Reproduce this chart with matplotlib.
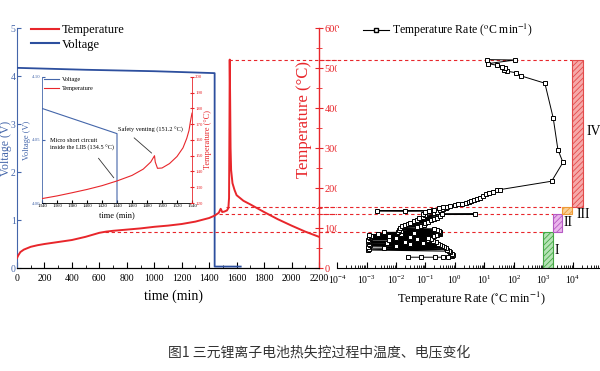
import matplotlib
matplotlib.use('Agg')
import matplotlib.pyplot as plt
from matplotlib.lines import Line2D
from matplotlib.patches import Rectangle
from matplotlib.ticker import MultipleLocator, LogLocator, NullFormatter

plt.rcParams['font.family'] = ['Liberation Serif', 'DejaVu Serif', 'Noto Sans CJK SC']
plt.rcParams['mathtext.fontset'] = 'stix'
plt.rcParams['hatch.linewidth'] = 0.6

RED = '#e8262b'
BLUE = '#2d4f9e'
TBLUE = '#4466aa'

# main test: temperature (degC) vs time (min)
time_min = [0, 10, 25, 50, 100, 150, 200, 300, 400, 500, 600, 650, 700, 800, 900,
            1000, 1100, 1200, 1300, 1400, 1440, 1470, 1484, 1490, 1495, 1510, 1530,
            1540, 1545, 1548, 1550, 1553, 1556, 1560, 1570, 1585, 1600, 1650, 1700,
            1800, 1900, 2000, 2100, 2200]
temp_c = [25, 32, 40, 46, 53, 57, 60, 65, 70, 78, 88, 91, 93, 96, 99,
          103, 106, 110, 116, 125, 131, 138, 148, 144, 140, 141, 144,
          150, 175, 360, 521, 420, 300, 245, 212, 195, 182, 168, 159,
          140, 122, 106, 91, 78]

# voltage (V) vs time (min)
volt_time = [0, 500, 1000, 1440, 1440, 1630]
volt_v = [4.17, 4.13, 4.10, 4.06, 0.03, 0.03]

# inset: zoom around the short circuit / venting
ins_time = [1340, 1360, 1380, 1400, 1420, 1440, 1460, 1475, 1485, 1490, 1491,
            1494, 1500, 1510, 1520, 1528, 1533, 1536, 1538, 1540]
ins_temp = [122.8, 124.5, 126.5, 128.6, 131.0, 134.0, 137.5, 141.5, 146.0, 150.0,
            146.0, 142.0, 142.2, 145.0, 149.5, 155.0, 161.0, 166.0, 172.0, 177.0]
ins_vtime = [1340, 1440, 1440]
ins_volt = [4.075, 4.055, 3.99]

# temperature rate (degC/min) vs temperature (degC)
rate_temp = [27, 27, 27, 27, 28,
             30, 33, 36, 39, 42, 45, 46, 48, 49, 51, 52, 53, 55, 56, 57, 58, 59, 60,
             61, 62, 63, 64, 65, 66, 67, 68, 69, 70, 71, 72, 73, 74, 75, 76, 77, 78,
             79, 80, 81, 82, 83, 84, 85, 86, 87, 88, 89, 90, 91, 92, 93, 95, 96, 98, 99,
             101, 102, 104, 105, 107, 108, 110, 112, 113, 115, 117, 119, 120, 122, 124,
             126, 128, 130, 132, 134, 135, 136, 138, 139, 141, 142, 143, 143, 144, 145,
             146, 148, 149, 151, 152, 153,
             155, 157, 159, 161, 163, 165, 167, 170, 173, 176, 180, 184, 188, 191, 194,
             196, 217, 264, 296, 375, 462, 480, 488, 492, 496, 500, 503, 507, 511, 520, 521]
rate_val = [0.026, 0.07, 0.21, 0.40, 0.60,
            0.80, 0.85, 0.78, 0.70, 0.62, 0.0011, 0.55, 0.0012, 0.48, 0.004, 0.42, 0.0011,
            0.36, 0.01, 0.0013, 0.32, 0.03, 0.0012,
            0.27, 0.005, 0.08, 0.0011, 0.22, 0.02, 0.0012, 0.18, 0.006, 0.12, 0.0011, 0.05,
            0.15, 0.0013, 0.01, 0.12, 0.0012, 0.03,
            0.2, 0.0014, 0.006, 0.25, 0.0012, 0.015, 0.3, 0.0025, 0.04, 0.32, 0.004, 0.3,
            0.012, 0.28, 0.015, 0.25, 0.013, 0.2, 0.015,
            0.014, 0.05, 0.016, 0.07, 0.02, 0.09, 0.025, 0.1, 0.03, 0.12, 0.04, 0.15, 0.05,
            0.2, 0.06,
            0.25, 0.08, 0.3, 0.1, 0.35, 4.8, 0.08, 0.2, 0.1, 0.25, 0.13, 0.0022, 0.02,
            0.18, 0.3,
            0.2, 0.4, 0.28, 0.5, 0.38, 0.55,
            0.7, 1.0, 1.3, 1.7, 2.3, 2.9, 3.5, 4.3, 5.5, 7.0, 9.0, 11.5, 14, 19, 27,
            34, 1900, 4600, 3100, 2150, 1120, 180, 120, 60, 45, 50, 38, 26, 13.5, 107, 12.5]
rate_ticks = [1e-4, 1e-3, 1e-2, 1e-1, 1e0, 1e1, 1e2, 1e3, 1e4]

# thermal runaway stages
stage_names = ['I', 'II', 'III', 'IV']
stage_bounds = [0, 90, 134, 153, 521]
stage_rate_edges = [1.0e3, 2.1e3, 4.3e3, 9.5e3, 2.2e4]
stage_start_time = [640, 1470, 1525, 1548]
stage_face = ['#b5e3b5', '#ebb5ec', '#f9cf98', '#f6a9a9']
stage_edge = ['#45a845', '#b55bc4', '#ef9a35', '#e34a4a']

fig = plt.figure(figsize=(6, 3.71), dpi=100)
ax = fig.add_axes([0.0283, 0.2776, 0.5033, 0.6469])
axt = ax.twinx()
ax2 = fig.add_axes([0.5617, 0.2776, 0.4383, 0.6469])

# ---- left panel
ax.plot(volt_time, volt_v, color=BLUE, lw=1.3, zorder=3)
ax.set_xlim(0, 2200)
ax.set_ylim(0, 5)
ax.xaxis.set_major_locator(MultipleLocator(200))
ax.xaxis.set_minor_locator(MultipleLocator(100))
ax.yaxis.set_major_locator(MultipleLocator(1))
ax.tick_params(axis='x', direction='in', length=4, labelsize=7, pad=4.5)
ax.tick_params(axis='x', which='minor', direction='in', length=2)
ax.tick_params(axis='y', direction='in', length=3, labelsize=7, labelcolor=TBLUE,
               color=TBLUE, pad=1)
ax.spines['top'].set_visible(False)
ax.spines['left'].set_color(TBLUE)
ax.spines['right'].set_visible(False)
ax.set_xlabel('time (min)', fontsize=10)
ax.xaxis.set_label_coords(0.517, -0.09)
ax.set_ylabel('Voltage (V)', fontsize=8.5, color=TBLUE)
ax.yaxis.set_label_coords(-0.0375, 0.5)
ax.yaxis.label.set_va('center')

axt.plot(time_min, temp_c, color=RED, lw=1.4, zorder=3)
axt.set_ylim(0, 600)
axt.yaxis.set_major_locator(MultipleLocator(100))
axt.yaxis.set_minor_locator(MultipleLocator(50))
axt.tick_params(axis='y', direction='inout', length=6, labelsize=7.5, colors=RED, pad=1)
axt.tick_params(axis='y', which='minor', direction='inout', length=4, colors=RED)
axt.spines['right'].set_color(RED)
axt.spines['right'].set_linewidth(1.0)
for s in ['top', 'left']:
    axt.spines[s].set_visible(False)
axt.set_ylabel('Temperature (°C)', fontsize=12, color=RED)
axt.yaxis.set_label_coords(0.95, 0.62)
axt.yaxis.label.set_va('center')

for t0, tb in zip(stage_start_time, stage_bounds[1:]):
    axt.plot([t0, 2330], [tb, tb], color=RED, lw=0.8, ls=(0, (3, 2.5)), clip_on=False, zorder=1)

fig.legend(handles=[Line2D([], [], color=RED, lw=1.5), Line2D([], [], color=BLUE, lw=1.5)],
           labels=['Temperature', 'Voltage'], loc='upper left', bbox_to_anchor=(0.052, 0.935),
           frameon=False, fontsize=9, handlelength=2.25, handletextpad=0.2, labelspacing=0.2,
           borderaxespad=0, borderpad=0)

# ---- right panel
ax2.plot(rate_val, rate_temp, color='black', lw=0.7, marker='s', ms=3.2,
         mfc='white', mec='black', mew=0.7, zorder=4)
ax2.set_xscale('log')
ax2.set_xlim(1e-4, 8.3e4)
ax2.set_ylim(0, 600)
ax2.set_yticks([])
for s in ['top', 'left', 'right']:
    ax2.spines[s].set_visible(False)
ax2.set_xticks(rate_ticks)
ax2.xaxis.set_minor_locator(LogLocator(base=10, subs=range(2, 10), numticks=20))
ax2.xaxis.set_minor_formatter(NullFormatter())
ax2.tick_params(axis='x', direction='in', length=4, labelsize=7, pad=4)
ax2.tick_params(axis='x', which='minor', direction='in', length=2)
ax2.set_xlabel('Temperature Rate ($^{\\circ}$C min$^{-1}$)', fontsize=9)
ax2.xaxis.set_label_coords(0.51, -0.09)

for k in range(4):
    lo, hi = stage_rate_edges[k], stage_rate_edges[k + 1]
    ax2.add_patch(Rectangle((lo, stage_bounds[k]), hi - lo, stage_bounds[k + 1] - stage_bounds[k],
                            facecolor=stage_face[k], edgecolor=stage_edge[k], hatch='//////',
                            lw=0.8, zorder=2))
    ax2.plot([10 ** -4.62, lo], [stage_bounds[k + 1]] * 2, color=RED, lw=0.8,
             ls=(0, (3, 2.5)), clip_on=False, zorder=1)

label_rate = [2.4e3, 5.0e3, 1.35e4, 3.0e4]
label_temp = [45, 113, 133, 342]
for name, xr, yt in zip(stage_names, label_rate, label_temp):
    ax2.text(xr, yt, name, fontsize=10, va='center', ha='left')

ax2.legend(handles=[Line2D([], [], color='black', lw=0.8, marker='s', ms=3.2, mfc='white')],
           labels=['Temperature Rate ($^{\\rm o}$C min$^{-1}$)'], loc='upper left',
           bbox_to_anchor=(0.097, 1.025), frameon=False, fontsize=8.5, handlelength=2.2,
           handletextpad=0.3, borderaxespad=0, borderpad=0)

# ---- inset
axi = fig.add_axes([0.07, 0.4528, 0.25, 0.34])
axit = axi.twinx()
axi.plot(ins_vtime, ins_volt, color=TBLUE, lw=0.8)
axi.set_xlim(1340, 1540)
axi.set_ylim(4.00, 4.10)
axi.set_yticks([4.00, 4.05, 4.10])
axi.xaxis.set_major_locator(MultipleLocator(20))
axi.tick_params(axis='x', direction='in', length=2, labelsize=3.5, pad=1)
axi.tick_params(axis='y', direction='in', length=2, labelsize=3.5, pad=1, colors=TBLUE)
axi.spines['top'].set_visible(False)
axi.spines['right'].set_visible(False)
axi.spines['left'].set_color(TBLUE)
axi.spines['left'].set_linewidth(0.6)
axi.spines['bottom'].set_linewidth(0.6)
axi.set_xlabel('time (min)', fontsize=6, labelpad=2)
axi.set_ylabel('Voltage (V)', fontsize=6, color=TBLUE, labelpad=1)

axit.plot(ins_time, ins_temp, color=RED, lw=0.8)
axit.set_ylim(120, 200)
axit.yaxis.set_major_locator(MultipleLocator(10))
axit.tick_params(axis='y', direction='inout', length=2.5, labelsize=3.5, pad=1, colors=RED)
axit.spines['right'].set_color(RED)
axit.spines['right'].set_linewidth(0.6)
for s in ['top', 'left', 'bottom']:
    axit.spines[s].set_visible(False)
axit.set_ylabel('Temperature (°C)', fontsize=6, color=RED, labelpad=1)

axit.text(1442, 166, 'Safety venting (151.2 °C)', fontsize=4.5, va='center', ha='left')
axit.annotate('', xy=(1489, 150.5), xytext=(1460, 162.5),
              arrowprops=dict(arrowstyle='-', color='#333333', lw=0.6))
axit.text(1351, 157, 'Micro short circuit\ninside the LIB (134.5 °C)', fontsize=4.5,
          va='center', ha='left', linespacing=1.5)
axit.annotate('', xy=(1438, 134.6), xytext=(1413, 149.8),
              arrowprops=dict(arrowstyle='-', color='#333333', lw=0.6))

axi.legend(handles=[Line2D([], [], color=TBLUE, lw=0.8), Line2D([], [], color=RED, lw=0.8)],
           labels=['Voltage', 'Temperature'], loc='upper left', bbox_to_anchor=(0.01, 1.0),
           frameon=False, fontsize=4.5, handlelength=2.5, handletextpad=0.4, labelspacing=0.6,
           borderaxespad=0, borderpad=0)

fig.text(0.532, 0.051, '图1 三元锂离子电池热失控过程中温度、电压变化', fontsize=10,
         color='#333333', ha='center', va='center', family=['Noto Sans CJK SC', 'DejaVu Sans'])

fig.savefig('out.png', dpi=100)
